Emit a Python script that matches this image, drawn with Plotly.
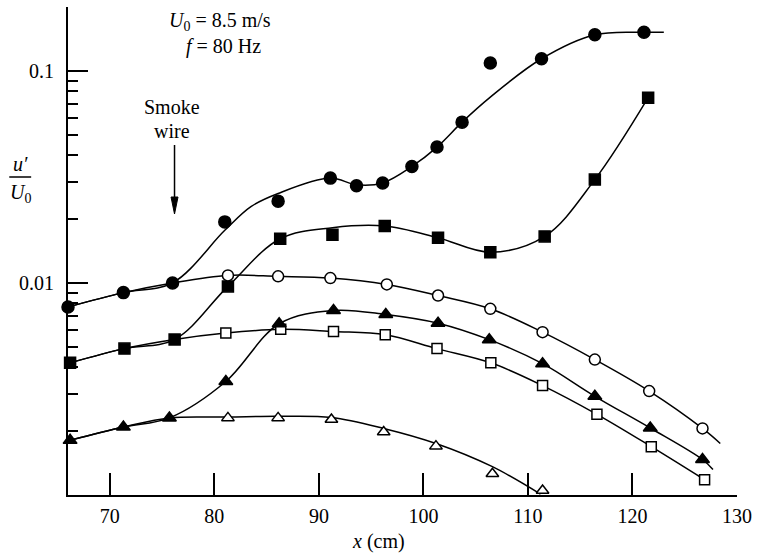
import plotly.graph_objects as go

# ---------------- data ----------------
# filled circles
fc_x = [66.0, 71.3, 76.0, 81.0, 86.1, 91.1, 93.6, 96.1, 98.9, 101.3, 103.7, 106.4, 111.3, 116.4, 121.1]
fc_y = [0.0077, 0.0090, 0.0100, 0.0194, 0.0243, 0.0312, 0.0287, 0.0296, 0.0354, 0.0437, 0.0573, 0.109, 0.114, 0.148, 0.152]
fc_cx = [66.0, 71.3, 76.0, 81.0, 83.5, 86.1, 91.1, 93.6, 96.1, 98.9, 101.3, 103.7, 106.4, 111.3, 116.4, 121.1, 123.0]
fc_cy = [0.0077, 0.0090, 0.0100, 0.0177, 0.0229, 0.0264, 0.0312, 0.0290, 0.0296, 0.0354, 0.0437, 0.0573, 0.0752, 0.114, 0.148, 0.152, 0.152]

# filled squares
fs_x = [66.2, 71.4, 76.2, 81.3, 86.3, 91.3, 96.3, 101.4, 106.4, 111.6, 116.4, 121.5]
fs_y = [0.0042, 0.0049, 0.00541, 0.00963, 0.01616, 0.01688, 0.01854, 0.01633, 0.01396, 0.01657, 0.0307, 0.0747]
fs_cx = [66.2, 71.4, 76.2, 81.3, 86.3, 91.3, 96.3, 101.4, 106.4, 111.6, 116.4, 121.5]
fs_cy = [0.0042, 0.0049, 0.00541, 0.00963, 0.01616, 0.0182, 0.01854, 0.01633, 0.01396, 0.01657, 0.0307, 0.0747]

# open circles
oc_x = [81.3, 86.1, 91.1, 96.5, 101.4, 106.4, 111.4, 116.4, 121.6, 126.7]
oc_y = [0.01085, 0.01074, 0.01054, 0.00984, 0.00872, 0.00755, 0.00586, 0.00435, 0.00309, 0.00206]
oc_cx = [66.0, 71.3, 76.0] + oc_x + [128.4]
oc_cy = [0.0077, 0.0090, 0.0100] + oc_y + [0.00175]

# open squares
os_x = [81.1, 86.35, 91.4, 96.35, 101.3, 106.45, 111.4, 116.6, 121.8, 126.9]
os_y = [0.0058, 0.00604, 0.0059, 0.0057, 0.0049, 0.0042, 0.00328, 0.0024, 0.00169, 0.00118]
os_cx = [66.2, 71.4, 76.2] + os_x
os_cy = [0.0042, 0.0049, 0.00541] + os_y

# filled triangles
ft_x = [66.2, 71.3, 75.7, 81.1, 86.2, 91.4, 96.4, 101.4, 106.3, 111.4, 116.4, 121.7, 126.7]
ft_y = [0.00181, 0.00209, 0.00231, 0.00343, 0.00642, 0.00742, 0.0071, 0.00646, 0.0054, 0.00416, 0.00292, 0.00207, 0.00147]
ft_cx = ft_x + [127.7]
ft_cy = ft_y + [0.00132]

# open triangles
ot_x = [81.3, 86.1, 91.2, 96.2, 101.2, 106.6, 111.4]
ot_y = [0.00231, 0.00231, 0.00227, 0.00198, 0.0017, 0.00126, 0.00105]
ot_cx = [66.2, 71.3, 75.7, 81.3, 86.1, 91.2, 96.2, 101.2, 106.6, 111.2]
ot_cy = [0.00181, 0.00209, 0.00231, 0.00233, 0.00235, 0.00232, 0.00206, 0.00175, 0.00136, 0.00101]

x_ticks = [70, 80, 90, 100, 110, 120, 130]
y_ticks = [0.01, 0.1]
y_ticktext = ["0.01", "0.1"]
y_minor = [0.002, 0.003, 0.004, 0.005, 0.006, 0.007, 0.008, 0.009,
           0.02, 0.03, 0.04, 0.05, 0.06, 0.07, 0.08, 0.09, 0.2]

# ---------------- figure ----------------
W, H = 759, 555
ML, MR, MT, MB = 68, 19, 7, 60
PW, PH = W - ML - MR, H - MT - MB


def px(xp):
    return (xp - ML) / PW


def py(yp):
    return (H - MB - yp) / PH


FONT = "Liberation Serif"
fig = go.Figure()

curves = [(fc_cx, fc_cy), (fs_cx, fs_cy), (oc_cx, oc_cy), (os_cx, os_cy), (ft_cx, ft_cy), (ot_cx, ot_cy)]
for cx, cy in curves:
    fig.add_trace(go.Scatter(x=cx, y=cy, mode="lines",
                             line=dict(color="black", width=1.5, shape="spline", smoothing=1.0),
                             hoverinfo="skip", showlegend=False, cliponaxis=False))

markers = [
    (fc_x, fc_y, "circle", "black", 12),
    (fs_x, fs_y, "square", "black", 11),
    (oc_x, oc_y, "circle", "white", 11),
    (os_x, os_y, "square", "white", 10),
    (ft_x, ft_y, "triangle-up", "black", 12),
    (ot_x, ot_y, "triangle-up", "white", 11),
]
for mx, my, sym, col, sz in markers:
    fig.add_trace(go.Scatter(x=mx, y=my, mode="markers",
                             marker=dict(symbol=sym, size=sz, color=col,
                                         line=dict(color="black", width=1.5)),
                             showlegend=False, cliponaxis=False))

fig.update_layout(
    width=W, height=H,
    margin=dict(l=ML, r=MR, t=MT, b=MB),
    paper_bgcolor="white", plot_bgcolor="white",
    font=dict(family=FONT, size=20, color="black"),
    showlegend=False,
)
fig.update_xaxes(range=[66, 130], showgrid=False, zeroline=False,
                 showline=True, linecolor="black", linewidth=2,
                 ticks="inside", ticklen=22, tickwidth=1.5, tickcolor="black",
                 tickvals=x_ticks, ticklabelstandoff=2,
                 tickfont=dict(family=FONT, size=20, color="black"))
fig.update_yaxes(type="log", range=[-3, -0.699], showgrid=False, zeroline=False,
                 showline=True, linecolor="black", linewidth=2,
                 ticks="inside", ticklen=20, tickwidth=1.5, tickcolor="black",
                 tickvals=y_ticks, ticktext=y_ticktext, ticklabelstandoff=8,
                 tickfont=dict(family=FONT, size=20, color="black"),
                 minor=dict(ticks="inside", ticklen=10, tickwidth=1.5, tickcolor="black",
                            tickvals=y_minor, showgrid=False))

ann = [
    (167, 22, "<i>U</i><sub>0</sub> = 8.5 m/s", "left"),
    (185, 47, "<i>f</i> = 80 Hz", "left"),
    (172, 107, "Smoke", "center"),
    (172, 131, "wire", "center"),
    (20, 164, "<i>u′</i>", "center"),
    (20, 193, "<i>U</i><sub>0</sub>", "center"),
    (380, 541, "<i>x</i> (cm)", "center"),
]
for xp, yp, txt, anc in ann:
    fig.add_annotation(x=px(xp), y=py(yp), xref="paper", yref="paper", text=txt,
                       showarrow=False, xanchor=anc, yanchor="middle",
                       font=dict(family=FONT, size=20, color="black"))

# fraction bar of the y-axis label
fig.add_shape(type="line", xref="paper", yref="paper",
              x0=px(9), x1=px(31), y0=py(177), y1=py(177),
              line=dict(color="black", width=1.5))
# smoke-wire arrow
fig.add_shape(type="line", xref="paper", yref="paper",
              x0=px(175), x1=px(175), y0=py(145), y1=py(200),
              line=dict(color="black", width=1.5))
fig.add_shape(type="path", xref="paper", yref="paper",
              path=f"M {px(171.5)},{py(197)} L {px(178.5)},{py(197)} L {px(175)},{py(214)} Z",
              fillcolor="black", line=dict(color="black", width=1))

fig.write_html("out.html", config={"displayModeBar": False},
               post_script="document.body.style.margin='0';document.body.style.padding='0';")
